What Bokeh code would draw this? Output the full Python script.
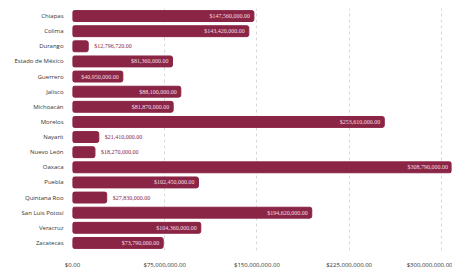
from bokeh.plotting import figure
from bokeh.models import ColumnDataSource, NumeralTickFormatter, FixedTicker, Range1d, Label
from bokeh.embed import file_html
from bokeh.resources import INLINE

states = ["Chiapas", "Colima", "Durango", "Estado de México", "Guerrero", "Jalisco",
          "Michoacán", "Morelos", "Nayarit", "Nuevo León", "Oaxaca", "Puebla",
          "Quintana Roo", "San Luis Potosí", "Veracruz", "Zacatecas"]
amounts = [147560000, 143420000, 12796720, 81360000, 40950000, 88100000,
           81870000, 253610000, 21410000, 18270000, 308790000, 102450000,
           27830000, 194620000, 104360000, 73790000]
ticks = [0, 75000000, 150000000, 225000000, 300000000]

BAR = "#8a2545"
labels = ["${:,.2f}".format(v) for v in amounts]
inside = [v >= 30000000 for v in amounts]

src_in = ColumnDataSource(dict(
    y=[s for s, k in zip(states, inside) if k],
    x=[v for v, k in zip(amounts, inside) if k],
    t=[l for l, k in zip(labels, inside) if k]))
src_out = ColumnDataSource(dict(
    y=[s for s, k in zip(states, inside) if not k],
    x=[v for v, k in zip(amounts, inside) if not k],
    t=[l for l, k in zip(labels, inside) if not k]))
src = ColumnDataSource(dict(y=states, x=amounts))

p = figure(y_range=list(reversed(states)), x_range=Range1d(0, 308300000),
           width=452, height=271, output_backend="svg", toolbar_location=None,
           min_border_left=72, min_border_right=1, min_border_top=8, min_border_bottom=17)
p.hbar(y="y", right="x", left=0, height=0.72, source=src, color=BAR, border_radius=2)
p.text(x="x", y="y", text="t", source=src_in, text_align="right", text_baseline="middle",
       x_offset=-4, text_font_size="6px", text_color="#f3dde4", text_font="Open Sans")
p.text(x="x", y="y", text="t", source=src_out, text_align="left", text_baseline="middle",
       x_offset=6, text_font_size="6px", text_color=BAR, text_font="Open Sans")

p.add_layout(Label(x=-57, y=244, x_units="screen", y_units="screen", text=" ",
                   text_font_size="1px", anchor="top_left",
                   padding=dict(left=0, right=440, top=128, bottom=128),
                   border_line_color="#b8b8b8", border_line_dash="2 1",
                   border_line_width=1, background_fill_color=None,
                   level="overlay"))

p.outline_line_color = None
p.ygrid.grid_line_color = None
p.xgrid.grid_line_color = "#d8d8d8"
p.xgrid.grid_line_dash = "3 3"
p.xaxis.ticker = FixedTicker(ticks=ticks)
p.xaxis.formatter = NumeralTickFormatter(format="$0,0.00")
for ax in (p.xaxis, p.yaxis):
    ax.axis_line_color = None
    ax.major_tick_line_color = None
    ax.minor_tick_line_color = None
    ax.major_label_text_font_size = "6px"
    ax.major_label_text_color = "#333333"
    ax.major_label_text_font = "Open Sans"
    ax.major_label_standoff = 3
p.xaxis.major_label_standoff = 4
p.y_range.range_padding = 0

open("out.html", "w").write(file_html(p, INLINE))
